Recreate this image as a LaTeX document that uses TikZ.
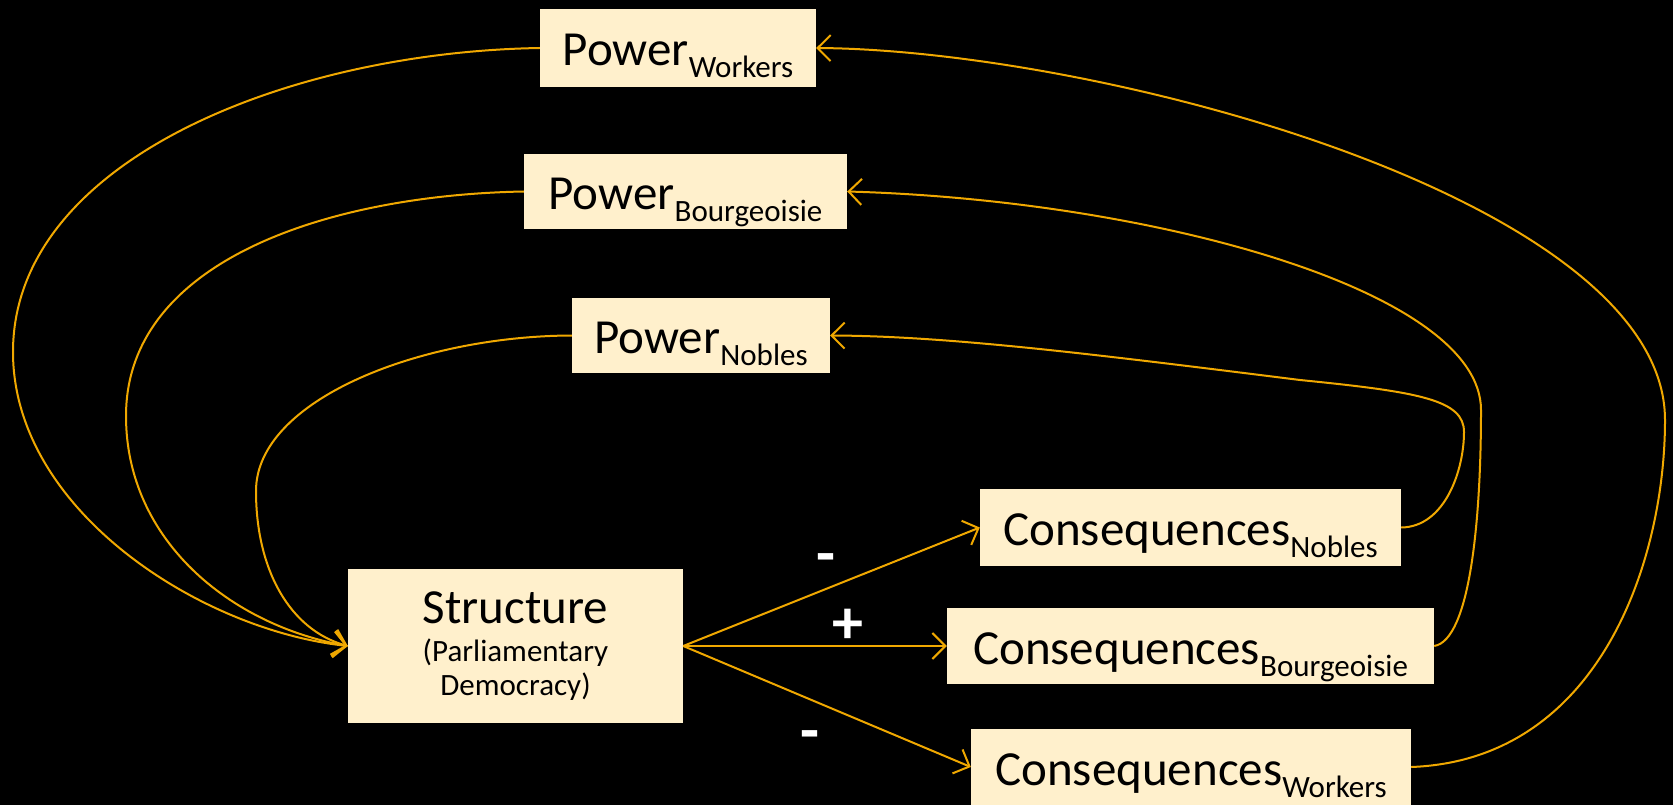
\documentclass[tikz,border=0pt]{standalone}
\usepackage{fontspec}
\setmainfont{Carlito}
\usetikzlibrary{arrows.meta}
\definecolor{boxfill}{HTML}{FFF0CC}
\definecolor{wire}{HTML}{F0A800}
\newcommand{\sub}[1]{{\fontsize{31}{31}\selectfont\raisebox{-12pt}{#1}}}
\begin{document}
\begin{tikzpicture}[x=1pt,y=-1pt,
  box/.style={fill=boxfill,inner sep=0pt,text=black,font=\fontsize{49}{49}\selectfont,
     text height=44pt,text depth=8pt},
  link/.style={draw=wire,line width=2pt,-{Straight Barb[length=13pt,width=26pt,line width=2pt]}},
  sign/.style={text=white,font=\bfseries\fontsize{62}{62}\selectfont,inner sep=0pt,text depth=0pt}]
\fill[black] (0,0) rectangle (1673,805);
\useasboundingbox (0,0) rectangle (1673,805);
\node[box,minimum width=276pt,minimum height=78pt] (pw) at (678,48) {Power\sub{Workers}};
\node[box,minimum width=323pt,minimum height=75pt] (pb) at (685.5,191.5) {Power\sub{Bourgeoisie}};
\node[box,minimum width=258pt,minimum height=75pt] (pn) at (701,335.5) {Power\sub{Nobles}};
\node[fill=boxfill,inner sep=0pt,minimum width=335pt,minimum height=154pt,align=center,
      font=\fontsize{31}{34}\selectfont] (st) at (515.5,646)
      {{\fontsize{49}{49}\selectfont Structure}\\[4pt](Parliamentary\\Democracy)};
\node[box,minimum width=421pt,minimum height=77pt] (cn) at (1190.5,527.5) {Consequences\sub{Nobles}};
\node[box,minimum width=487pt,minimum height=76pt] (cb) at (1190.5,646) {Consequences\sub{Bourgeoisie}};
\node[box,minimum width=440pt,minimum height=76pt] (cw) at (1191,767) {Consequences\sub{Workers}};
\draw[link] (st.east) -- (cn.west);
\draw[link] (st.east) -- (cb.west);
\draw[link] (st.east) -- (cw.west);
\node[sign,text height=32pt] (s1) at (825.5,558.5) {-};
\node[sign,text height=42pt] (s2) at (847.5,622) {+};
\node[sign,text height=32pt] (s3) at (810,735) {-};
% left feedback curves
\draw[link] (pw.west) .. controls (290,52) and (13,160) .. (13,352)
   .. controls (13,510) and (200,630) .. (st.west);
\draw[link] (pb.west) .. controls (330,195) and (126,260) .. (126,416)
   .. controls (126,540) and (230,625) .. (st.west);
\draw[link] (pn.west) .. controls (420,336) and (256,400) .. (256,491)
   .. controls (256,570) and (290,630) .. (st.west);
% right feedback curves
\draw[link] (cn.east) .. controls (1445,527) and (1464,470) .. (1464,432)
   .. controls (1464,400) and (1420,392) .. (1300,380)
   .. controls (1100,355) and (950,336) .. (pn.east);
\draw[link] (cb.east) .. controls (1470,640) and (1481,520) .. (1481,410)
   .. controls (1481,290) and (1150,200) .. (pb.east);
\draw[link] (cw.east) .. controls (1600,760) and (1665,560) .. (1665,420)
   .. controls (1665,200) and (1100,50) .. (pw.east);
\end{tikzpicture}
\end{document}
